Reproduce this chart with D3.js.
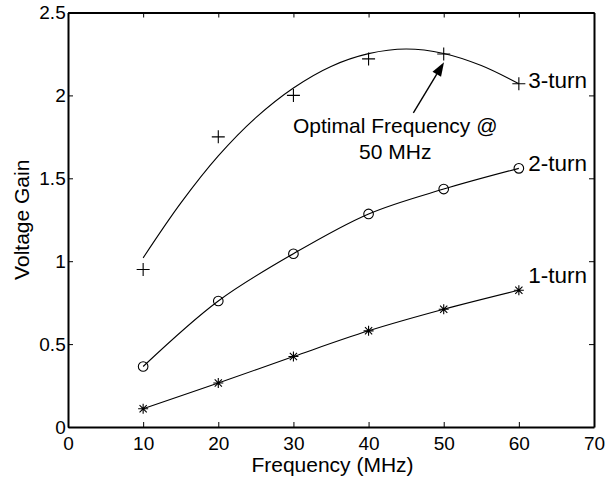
<!DOCTYPE html>
<html>
<head>
<meta charset="utf-8">
<script src="https://cdnjs.cloudflare.com/ajax/libs/d3/7.8.5/d3.min.js"></script>
<style>
body { margin: 0; background: #fff; }
svg { display: block; font-family: "Liberation Sans", Arial, sans-serif; }
</style>
</head>
<body>
<script>
// measured points (MHz, gain)
const freq = [10, 20, 30, 40, 50, 60];
const gain1 = [0.11, 0.265, 0.425, 0.58, 0.71, 0.825];
const gain2 = [0.365, 0.76, 1.045, 1.285, 1.435, 1.56];
const gain3 = [0.95, 1.75, 2.0, 2.22, 2.25, 2.07];

// fitted curve for the 3-turn coil
const fitFreq = [10, 15, 20, 25, 30, 35, 40, 45, 50, 55, 60];
const fitGain3 = [1.02, 1.35, 1.635, 1.866, 2.045, 2.175, 2.252, 2.28, 2.253, 2.18, 2.07];

const xTicks = [0, 10, 20, 30, 40, 50, 60, 70];
const yTicks = [0, 0.5, 1, 1.5, 2, 2.5];

const seriesNames = ["1-turn", "2-turn", "3-turn"];
const labelFreq = [61.26, 61.26, 61.26];
const labelGain = [0.919, 1.593, 2.095];

const noteLines = ["Optimal Frequency @", "50 MHz"];
const noteFreq = 43.55;
const noteGain = [1.771, 1.615];
const arrowFrom = [45.96, 1.894];
const arrowTo = [50.04, 2.2];

const width = 611;
const height = 481;

const svg = d3.select("body").append("svg")
    .attr("width", width)
    .attr("height", height);

svg.append("rect").attr("width", width).attr("height", height).attr("fill", "#fff");

const x = d3.scaleLinear().domain([0, 70]).range([68, 594]);
const y = d3.scaleLinear().domain([0, 2.5]).range([427, 12.5]);

// axes, ticks pointing inward on all four sides
function styleAxis(g) {
    g.select(".domain").attr("stroke", "#000").attr("stroke-width", 2);
    g.selectAll(".tick line").attr("stroke", "#000").attr("stroke-width", 1);
    g.selectAll(".tick text").attr("fill", "#000").attr("font-size", "19px")
        .attr("font-family", "Liberation Sans, Arial, sans-serif");
}

svg.append("g")
    .attr("transform", `translate(0,${y(0)})`)
    .call(d3.axisBottom(x).tickValues(xTicks).tickSizeInner(-5).tickSizeOuter(0).tickPadding(9.5))
    .call(styleAxis);

svg.append("g")
    .attr("transform", `translate(0,${y(2.5)})`)
    .call(d3.axisTop(x).tickValues(xTicks).tickSizeInner(-5).tickSizeOuter(0).tickFormat(""))
    .call(styleAxis);

svg.append("g")
    .attr("transform", `translate(${x(0)},0)`)
    .call(d3.axisLeft(y).tickValues(yTicks).tickSizeInner(-5).tickSizeOuter(0).tickPadding(2.3).tickFormat(d3.format("")))
    .call(styleAxis);

svg.append("g")
    .attr("transform", `translate(${x(70)},0)`)
    .call(d3.axisRight(y).tickValues(yTicks).tickSizeInner(-5).tickSizeOuter(0).tickFormat(""))
    .call(styleAxis);

// axis titles
svg.append("text")
    .attr("x", 332.5)
    .attr("y", 471.7)
    .attr("text-anchor", "middle")
    .attr("font-size", "21px")
    .text("Frequency (MHz)");

svg.append("text")
    .attr("transform", `translate(28.5,${(y(0) + y(2.5)) / 2})` + " rotate(-90)")
    .attr("text-anchor", "middle")
    .attr("font-size", "21px")
    .text("Voltage Gain");

// lines
const line = d3.line()
    .x(d => x(d[0]))
    .y(d => y(d[1]))
    .curve(d3.curveCatmullRom);

const plot = svg.append("g");

plot.append("path")
    .datum(freq.map((f, i) => [f, gain1[i]]))
    .attr("d", line)
    .attr("fill", "none").attr("stroke", "#000").attr("stroke-width", 1.1);

plot.append("path")
    .datum(freq.map((f, i) => [f, gain2[i]]))
    .attr("d", line)
    .attr("fill", "none").attr("stroke", "#000").attr("stroke-width", 1.1);

plot.append("path")
    .datum(fitFreq.map((f, i) => [f, fitGain3[i]]))
    .attr("d", line)
    .attr("fill", "none").attr("stroke", "#000").attr("stroke-width", 1.1);

// markers
plot.selectAll(".star").data(freq.map((f, i) => [f, gain1[i]]))
    .join("path")
    .attr("class", "star")
    .attr("transform", d => `translate(${x(d[0])},${y(d[1])})`)
    .attr("d", "M-5,0H5M0,-5V5M-3.6,-3.6L3.6,3.6M-3.6,3.6L3.6,-3.6")
    .attr("fill", "none").attr("stroke", "#000").attr("stroke-width", 1.1);

plot.selectAll(".ring").data(freq.map((f, i) => [f, gain2[i]]))
    .join("circle")
    .attr("class", "ring")
    .attr("cx", d => x(d[0]))
    .attr("cy", d => y(d[1]))
    .attr("r", 4.8)
    .attr("fill", "none").attr("stroke", "#000").attr("stroke-width", 1.1);

plot.selectAll(".cross").data(freq.map((f, i) => [f, gain3[i]]))
    .join("path")
    .attr("class", "cross")
    .attr("transform", d => `translate(${x(d[0])},${y(d[1])})`)
    .attr("d", "M-6.5,0H6.5M0,-6.5V6.5")
    .attr("fill", "none").attr("stroke", "#000").attr("stroke-width", 1.1);

// series labels
svg.selectAll(".lbl").data(seriesNames)
    .join("text")
    .attr("class", "lbl")
    .attr("x", (d, i) => x(labelFreq[i]))
    .attr("y", (d, i) => y(labelGain[i]))
    .attr("dy", "0.36em")
    .attr("font-size", "22.5px")
    .text(d => d);

// annotation
svg.selectAll(".note").data(noteLines)
    .join("text")
    .attr("class", "note")
    .attr("x", x(noteFreq))
    .attr("y", (d, i) => y(noteGain[i]))
    .attr("text-anchor", "middle")
    .attr("font-size", "21px")
    .text(d => d);

const x0 = x(arrowFrom[0]), y0 = y(arrowFrom[1]);
const x1 = x(arrowTo[0]), y1 = y(arrowTo[1]);
const len = Math.hypot(x1 - x0, y1 - y0);
const ux = (x1 - x0) / len, uy = (y1 - y0) / len;
const headLen = 14, headHalf = 5;
const bx = x1 - ux * headLen, by = y1 - uy * headLen;

svg.append("line")
    .attr("x1", x0).attr("y1", y0)
    .attr("x2", bx).attr("y2", by)
    .attr("stroke", "#000").attr("stroke-width", 1.4);

svg.append("path")
    .attr("d", `M${x1},${y1}L${bx - uy * headHalf},${by + ux * headHalf}L${bx + uy * headHalf},${by - ux * headHalf}Z`)
    .attr("fill", "#000");
</script>
</body>
</html>
